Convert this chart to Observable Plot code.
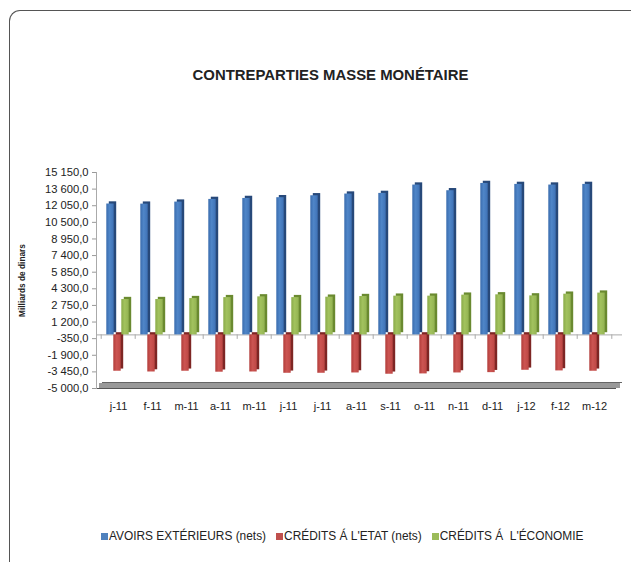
<!DOCTYPE html>
<html>
<head>
<meta charset="utf-8">
<script src="https://cdn.jsdelivr.net/npm/d3@7"></script>
<script src="https://cdn.jsdelivr.net/npm/@observablehq/plot@0.6"></script>
<style>
  html, body { margin: 0; padding: 0; background: #fff; }
  body { width: 631px; height: 562px; position: relative; overflow: hidden; font-family: "Liberation Sans", Arial, sans-serif; color: #222; }
  #frame { position: absolute; left: 9px; top: 10px; width: 700px; height: 700px; border-left: 1.6px solid #555; border-top: 1.6px solid #555; border-top-left-radius: 11px; }
  #title { position: absolute; left: 0; width: 661px; top: 67px; text-align: center; font-weight: bold; font-size: 14.9px; color: #222; }
  #chart { position: absolute; left: 0; top: 160px; }
  #legend { position: absolute; top: 529px; left: 101px; font-size: 11.9px; color: #222; white-space: pre; display: flex; }
  .item { display: flex; align-items: center; margin-right: 10px; }
  .sw { width: 7px; height: 7px; margin-right: 1px; }
</style>
</head>
<body>
<div id="frame"></div>
<div id="title">CONTREPARTIES MASSE MONÉTAIRE</div>
<div id="chart"></div>
<div id="legend"></div>
<script>
const months = ["j-11","f-11","m-11","a-11","m-11 ","j-11 ","j-11  ","a-11 ","s-11","o-11","n-11","d-11","j-12","f-12","m-12"];
const avoirsExterieurs = [12210, 12200, 12390, 12640, 12730, 12800, 12980, 13140, 13200, 13980, 13450, 14130, 14040, 13980, 14040];
const creditsEtat = [-3390, -3460, -3390, -3480, -3460, -3580, -3580, -3550, -3670, -3640, -3550, -3520, -3300, -3360, -3390];
const creditsEconomie = [3300, 3300, 3390, 3480, 3550, 3480, 3520, 3580, 3615, 3615, 3710, 3740, 3640, 3800, 3900];
const yTicks = [-5000, -3450, -1900, -350, 1200, 2750, 4300, 5850, 7400, 8950, 10500, 12050, 13600, 15150];
const seriesNames = ["AVOIRS EXTÉRIEURS (nets)", "CRÉDITS Á L'ETAT (nets)", "CRÉDITS Á  L'ÉCONOMIE"];
const seriesColors = ["#4f81bd", "#c0504d", "#9bbb59"];

const fmt = d3.formatLocale({decimal: ",", thousands: " ", grouping: [3], currency: ["", ""], minus: "-"}).format(",.1f");

const rows = (vals) => months.map((m, i) => ({month: m, value: vals[i]}));
const blue = rows(avoirsExterieurs), red = rows(creditsEtat), green = rows(creditsEconomie);

const W = 631, H = 270, mL = 96, mR = 16;
const step = (W - mL - mR) / months.length;
const barW = 8;
const inset = (step - barW) / 2;

function bar3d(data, dx, front, side) {
  return [
    Plot.barY(data, {x: "month", y: "value", fill: side, insetLeft: inset, insetRight: inset, dx: dx + 2.5, dy: -2.2}),
    Plot.barY(data, {x: "month", y: "value", fill: front, insetLeft: inset, insetRight: inset, dx: dx})
  ];
}

const plot = Plot.plot({
  width: W, height: H,
  marginTop: 12, marginBottom: 42, marginLeft: mL, marginRight: mR,
  style: {fontFamily: "'Liberation Sans', Arial, sans-serif", fontSize: "11.2px", color: "#222", background: "transparent", overflow: "visible"},
  x: {domain: months, padding: 0, axis: null},
  y: {domain: [-5000, 15150], axis: null},
  marks: [
    Plot.ruleY([-5000], {stroke: "#999", strokeWidth: 5, dy: -3, insetLeft: 3, insetRight: -5}),
    Plot.ruleY([-5000], {stroke: "#555", strokeWidth: 1, insetRight: -1}),
    Plot.ruleY([-5000], {stroke: "#666", strokeWidth: 1, dy: -6, insetLeft: 6, insetRight: -7}),
    Plot.axisY({ticks: yTicks, tickFormat: fmt, tickSize: 4, tickPadding: 4, stroke: "#999", label: null}),
    Plot.frame({anchor: "left", stroke: "#aaa"}),
    Plot.ruleY([0], {stroke: "#aaa", insetRight: -7}),
    Plot.ruleX(months, {x: (d) => d, y1: 0, y2: -420, dx: -step / 2, stroke: "#aaa"}),
    Plot.ruleX(months.slice(-1), {x: (d) => d, y1: 0, y2: -420, dx: step / 2, stroke: "#aaa"}),
    ...bar3d(blue, -8, "url(#gBlue)", "#27497a"),
    ...bar3d(red, -1, "url(#gRed)", "#7e2624"),
    ...bar3d(green, 7, "url(#gGreen)", "#6a8a30"),
    Plot.axisX({tickSize: 0, tickPadding: 14, fontSize: 11, label: null, tickFormat: (d) => d.trim()}),
    Plot.text(["Milliards de dinars"], {frameAnchor: "left", rotate: -90, dx: -74, textAnchor: "middle", fontWeight: "bold", fontSize: 8.3})
  ]
});

const defs = d3.select(plot).insert("defs", ":first-child");
function grad(id, stops) {
  const g = defs.append("linearGradient").attr("id", id).attr("x1", "0").attr("x2", "1").attr("y1", "0").attr("y2", "0");
  stops.forEach(([o, c]) => g.append("stop").attr("offset", o).attr("stop-color", c));
}
grad("gBlue", [[0, "#3a6cae"], [0.45, "#4f86c8"], [1, "#3f72b6"]]);
grad("gRed", [[0, "#b23d3a"], [0.45, "#cc5552"], [1, "#bd4744"]]);
grad("gGreen", [[0, "#8aab49"], [0.45, "#a2c25e"], [1, "#93b352"]]);

document.getElementById("chart").appendChild(plot);

const legend = document.getElementById("legend");
seriesNames.forEach((name, i) => {
  const it = document.createElement("div");
  it.className = "item";
  const sw = document.createElement("div");
  sw.className = "sw";
  sw.style.background = seriesColors[i];
  const t = document.createElement("span");
  t.textContent = name;
  it.appendChild(sw); it.appendChild(t);
  legend.appendChild(it);
});
</script>
</body>
</html>
